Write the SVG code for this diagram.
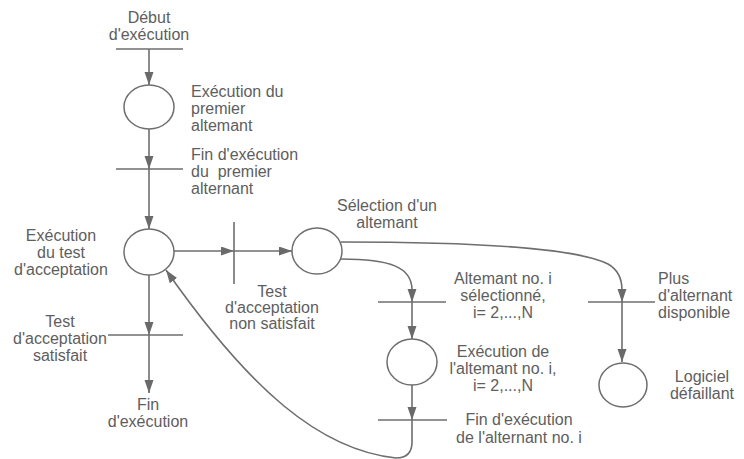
<svg xmlns="http://www.w3.org/2000/svg" width="744" height="459" viewBox="0 0 744 459">
<defs>
<marker id="arr" markerUnits="userSpaceOnUse" markerWidth="14" markerHeight="10" refX="13" refY="4.5" orient="auto">
<path d="M0,0 L13,4.5 L0,9 z" fill="#6a6a6a"/>
</marker>
<style>
.t{font-family:"Liberation Sans",Arial,sans-serif;font-size:16px;fill:#5e5e5e}
.m{text-anchor:middle}
.ln{stroke:#6e6e6e;stroke-width:1.6;fill:none}
.pl{stroke:#6e6e6e;stroke-width:1.5;fill:#fff}
.ar{marker-end:url(#arr)}
</style>
</defs>
<rect width="744" height="459" fill="#fff"/>
<g id="connectors">
<line class="ln ar" x1="149" y1="49" x2="149" y2="85"/>
<line class="ln ar" x1="149" y1="129" x2="149" y2="169"/>
<line class="ln ar" x1="149" y1="169" x2="149" y2="229"/>
<line class="ln ar" x1="149" y1="275" x2="149" y2="335"/>
<line class="ln ar" x1="149" y1="335" x2="149" y2="393"/>
<line class="ln ar" x1="174" y1="251" x2="234" y2="251"/>
<line class="ln ar" x1="234" y1="251" x2="292" y2="251"/>
<path class="ln ar" d="M341,259 C390,259 412,267 412,290 L412,302"/>
<line class="ln ar" x1="412" y1="302" x2="412" y2="339"/>
<line class="ln ar" x1="412" y1="385" x2="412" y2="420"/>
<path class="ln ar" d="M412,420 L412,442 Q412,458 396,458 C320,450 250,390 166,270"/>
<path class="ln ar" d="M341,242 C480,242 578,249 608,264 Q622,272 622,290 L622,302"/>
<line class="ln ar" x1="622" y1="302" x2="622" y2="362"/>
</g>
<g id="t_debut">
<line class="ln" x1="116" y1="49" x2="183" y2="49"/>
<text class="t m" x="149" y="23">Début</text>
<text class="t m" x="149" y="40">d'exécution</text>
</g>
<g id="p_premier">
<ellipse class="pl" cx="149" cy="107" rx="25" ry="22"/>
<text class="t" x="191" y="97">Exécution du</text>
<text class="t" x="191" y="114">premier</text>
<text class="t" x="191" y="131">altemant</text>
</g>
<g id="t_fin_premier">
<line class="ln" x1="116" y1="169" x2="183" y2="169"/>
<text class="t" x="191" y="160">Fin d'exécution</text>
<text class="t" x="191" y="177" xml:space="preserve">du  premier</text>
<text class="t" x="191" y="194">alternant</text>
</g>
<g id="p_test">
<ellipse class="pl" cx="149" cy="252" rx="25" ry="23"/>
<text class="t m" x="61" y="241">Exécution</text>
<text class="t m" x="61" y="258">du test</text>
<text class="t m" x="61" y="275">d'acceptation</text>
</g>
<g id="t_satisfait">
<line class="ln" x1="108" y1="335" x2="183" y2="335"/>
<text class="t m" x="60" y="327">Test</text>
<text class="t m" x="60" y="344">d'acceptation</text>
<text class="t m" x="60" y="361">satisfait</text>
</g>
<g id="p_fin">
<text class="t m" x="148" y="410">Fin</text>
<text class="t m" x="148" y="427">d'exécution</text>
</g>
<g id="t_non_satisfait">
<line class="ln" x1="234" y1="222" x2="234" y2="284"/>
<text class="t m" x="272" y="297">Test</text>
<text class="t m" x="272" y="313">d'acceptation</text>
<text class="t m" x="272" y="329">non satisfait</text>
</g>
<g id="p_selection">
<ellipse class="pl" cx="317" cy="251" rx="25" ry="23"/>
<text class="t m" x="387" y="211">Sélection d'un</text>
<text class="t m" x="387" y="228">altemant</text>
</g>
<g id="t_alternant_i">
<line class="ln" x1="378" y1="302" x2="446" y2="302"/>
<text class="t m" x="503" y="284">Altemant no. i</text>
<text class="t m" x="503" y="301">sélectionné,</text>
<text class="t m" x="503" y="318">i= 2,...,N</text>
</g>
<g id="p_exec_i">
<ellipse class="pl" cx="412" cy="362" rx="25" ry="23"/>
<text class="t m" x="503" y="357">Exécution de</text>
<text class="t m" x="503" y="374">l'altemant no. i,</text>
<text class="t m" x="503" y="391">i= 2,...,N</text>
</g>
<g id="t_fin_i">
<line class="ln" x1="378" y1="420" x2="447" y2="420"/>
<text class="t m" x="519" y="425">Fin d'exécution</text>
<text class="t m" x="519" y="443">de l'alternant no. i</text>
</g>
<g id="t_plus">
<line class="ln" x1="588" y1="302" x2="655" y2="302"/>
<text class="t" x="658" y="284">Plus</text>
<text class="t" x="658" y="301">d'alternant</text>
<text class="t" x="658" y="318">disponible</text>
</g>
<g id="p_defaillant">
<ellipse class="pl" cx="623" cy="385" rx="24" ry="22"/>
<text class="t m" x="702" y="382">Logiciel</text>
<text class="t m" x="702" y="399">défaillant</text>
</g>
</svg>
